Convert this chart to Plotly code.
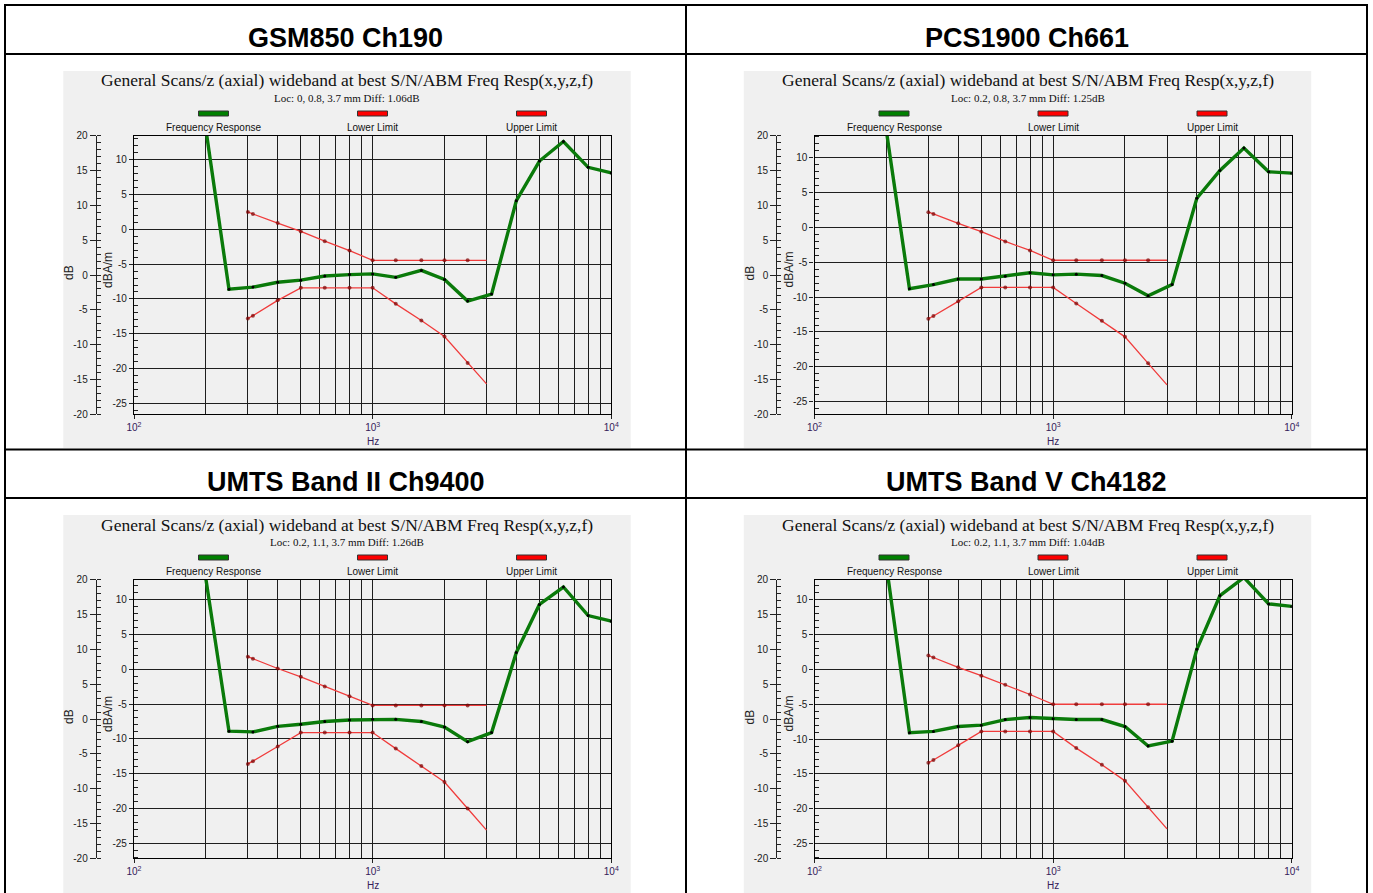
import plotly.graph_objects as go

W, H = 1373, 893       # page size

# ---------------- data ----------------
headers = ["GSM850 Ch190", "PCS1900 Ch661", "UMTS Band II Ch9400", "UMTS Band V Ch4182"]
chart_title = "General Scans/z (axial) wideband at best S/N/ABM Freq Resp(x,y,z,f)"
loc_texts = [
    "Loc: 0, 0.8, 3.7 mm Diff: 1.06dB",
    "Loc: 0.2, 0.8, 3.7 mm Diff: 1.25dB",
    "Loc: 0.2, 1.1, 3.7 mm Diff: 1.26dB",
    "Loc: 0.2, 1.1, 3.7 mm Diff: 1.04dB",
]
legend_names = ["Frequency Response", "Lower Limit", "Upper Limit"]

freqs_resp = [200, 250, 315, 400, 500, 630, 800, 1000, 1250, 1600, 2000, 2500, 3150, 4000, 5000, 6300, 8000, 10000]
freqs_limit = [300, 315, 400, 500, 630, 800, 1000, 1250, 1600, 2000, 2500, 3000]

gsm850_resp = [14.4, -8.6, -8.3, -7.6, -7.3, -6.7, -6.5, -6.4, -6.9, -5.9, -7.2, -10.3, -9.3, 4.1, 9.8, 12.6, 8.9, 8.1]
gsm850_lower = [-12.8, -12.4, -10.2, -8.4, -8.4, -8.4, -8.4, -10.7, -13.1, -15.4, -19.2, -22.2]
gsm850_upper = [2.5, 2.2, 0.9, -0.3, -1.7, -3.05, -4.45, -4.45, -4.45, -4.45, -4.45, -4.45]

pcs1900_resp = [13.9, -8.8, -8.2, -7.4, -7.4, -7.0, -6.5, -6.8, -6.7, -6.9, -8.0, -9.8, -8.2, 4.2, 8.2, 11.4, 8.0, 7.8]
pcs1900_lower = [-13.1, -12.7, -10.6, -8.6, -8.6, -8.6, -8.6, -10.9, -13.4, -15.7, -19.5, -22.6]
pcs1900_upper = [2.2, 1.95, 0.6, -0.6, -2.0, -3.3, -4.7, -4.7, -4.7, -4.7, -4.7, -4.7]

umts2_resp = [13.0, -8.9, -9.0, -8.2, -7.9, -7.5, -7.3, -7.2, -7.2, -7.5, -8.3, -10.4, -9.1, 2.4, 9.3, 11.8, 7.7, 6.9]
umts2_lower = [-13.6, -13.2, -11.1, -9.1, -9.1, -9.1, -9.1, -11.4, -13.9, -16.2, -20.0, -23.1]
umts2_upper = [1.8, 1.5, 0.1, -1.1, -2.5, -3.9, -5.2, -5.2, -5.2, -5.2, -5.2, -5.2]

umts5_resp = [15.0, -9.1, -8.9, -8.2, -8.0, -7.2, -6.9, -7.1, -7.2, -7.2, -8.2, -11.0, -10.3, 2.9, 10.6, 13.2, 9.4, 9.05]
umts5_lower = [-13.4, -13.0, -10.9, -8.9, -8.9, -8.9, -8.9, -11.3, -13.7, -16.0, -19.8, -22.9]
umts5_upper = [2.0, 1.7, 0.3, -0.9, -2.2, -3.6, -5.0, -5.0, -5.0, -5.0, -5.0, -5.0]

resp_series = [gsm850_resp, pcs1900_resp, umts2_resp, umts5_resp]
lower_series = [gsm850_lower, pcs1900_lower, umts2_lower, umts5_lower]
upper_series = [gsm850_upper, pcs1900_upper, umts2_upper, umts5_upper]

inner_ticks = [-25, -20, -15, -10, -5, 0, 5, 10]
outer_ticks = [-20, -15, -10, -5, 0, 5, 10, 15, 20]
x_major = [100, 1000, 10000]
x_major_text = ["10<sup>2</sup>", "10<sup>3</sup>", "10<sup>4</sup>"]
x_minor = [200, 300, 400, 500, 600, 700, 800, 900, 2000, 3000, 4000, 5000, 6000, 7000, 8000, 9000]

inner_ranges = [[-26.56, 13.44], [-26.82, 13.18], [-27.15, 12.85], [-27.12, 12.88]]

def X(px):
    return px / W

def Y(py):
    return 1 - py / H

GREEN = "#0a7a0a"
RED = "#f03c3c"
GRID = "#1e1e1e"
TICKFONT = dict(family="Liberation Sans, Arial, sans-serif", size=10, color="#1a1a1a")

fig = go.Figure()
shapes = []
annotations = []
layout = {}

for i in range(4):
    col, row = i % 2, i // 2
    dx = 680.5 * col
    dy = 444.0 * row
    n = i + 1
    xa = "x" if n == 1 else f"x{n}"
    ya = "y" if n == 1 else f"y{n}"
    yo = f"y{n + 4}"

    px0, px1 = 134 + dx, 611.3 + dx
    py0, py1 = 135.7 + dy, 414.3 + dy

    layout[f"xaxis{n}"] = dict(
        type="log", range=[2, 4], domain=[X(px0), X(px1)], anchor=ya,
        tickmode="array", tickvals=x_major, ticktext=x_major_text,
        ticks="outside", ticklen=4, tickcolor="#222", tickwidth=1,
        showgrid=True, gridcolor=GRID, gridwidth=1.2,
        minor=dict(tickmode="array", tickvals=x_minor, showgrid=True,
                   gridcolor=GRID, gridwidth=1.2, ticks=""),
        showline=True, linecolor="#000", linewidth=1.2, mirror=True,
        zeroline=False, automargin=False,
        tickfont=dict(family="Liberation Sans, Arial", size=10, color="#35205a"),
        fixedrange=True,
    )
    layout[f"yaxis{n}"] = dict(
        range=inner_ranges[i], domain=[Y(py1), Y(py0)], anchor=xa,
        tickmode="array", tickvals=inner_ticks, ticktext=[str(v) for v in inner_ticks],
        ticks="outside", ticklen=4, tickcolor="#222", tickwidth=1,
        minor=dict(ticks="inside", ticklen=4, tickcolor="#222", tickmode="linear",
                   tick0=0, dtick=1, showgrid=False),
        showgrid=True, gridcolor=GRID, gridwidth=1.2,
        showline=True, linecolor="#000", linewidth=1.2, mirror=True,
        zeroline=False, automargin=False, tickfont=TICKFONT, fixedrange=True,
    )
    layout[f"yaxis{n + 4}"] = dict(
        range=[-20, 20], overlaying=ya, anchor="free", position=X(95.7 + dx), side="left",
        tickmode="array", tickvals=outer_ticks, ticktext=[str(v) for v in outer_ticks],
        ticks="outside", ticklen=6, tickcolor="#222", tickwidth=1,
        minor=dict(ticks="inside", ticklen=4, tickcolor="#222", tickmode="linear",
                   tick0=0, dtick=1, showgrid=False),
        showgrid=False, showline=True, linecolor="#222", linewidth=1,
        zeroline=False, automargin=False, tickfont=TICKFONT, fixedrange=True,
    )

    # invisible trace so the outer dB axis is drawn
    fig.add_trace(go.Scatter(x=[None], y=[None], xaxis=xa, yaxis=yo,
                             showlegend=False, hoverinfo="skip"))

    msize = [4] * (len(freqs_limit) - 1) + [0]
    for series in (lower_series[i], upper_series[i]):
        fig.add_trace(go.Scatter(
            x=freqs_limit, y=series, xaxis=xa, yaxis=ya, mode="lines+markers",
            line=dict(color=RED, width=1.3),
            marker=dict(size=msize, color="#7a0000", line=dict(width=0)),
            showlegend=False, hoverinfo="skip", cliponaxis=True))
    fig.add_trace(go.Scatter(
        x=freqs_resp, y=resp_series[i], xaxis=xa, yaxis=ya, mode="lines+markers",
        line=dict(color=GREEN, width=3.4),
        marker=dict(size=3, color="#000"),
        showlegend=False, hoverinfo="skip", cliponaxis=True))

    gy1 = 448 + dy if row == 0 else H + 5
    shapes.append(dict(type="rect", xref="paper", yref="paper",
                       x0=X(63.3 + dx), x1=X(630.7 + dx), y0=Y(gy1), y1=Y(71 + dy),
                       fillcolor="#f0f0f0", line=dict(width=0), layer="below"))

    cx = 347 + dx
    annotations.append(dict(x=X(cx), y=Y(80.5 + dy), xref="paper", yref="paper",
                            text=chart_title, showarrow=False, xanchor="center", yanchor="middle",
                            font=dict(family="Liberation Serif, Times New Roman, serif", size=17.5, color="#111")))
    annotations.append(dict(x=X(cx), y=Y(98 + dy), xref="paper", yref="paper",
                            text=loc_texts[i], showarrow=False, xanchor="center", yanchor="middle",
                            font=dict(family="Liberation Serif, Times New Roman, serif", size=11, color="#111")))

    for k, (name, col_fill) in enumerate(zip(legend_names, ["#008000", "#ff0000", "#ff0000"])):
        lx = 213.5 + dx + 159 * k
        shapes.append(dict(type="rect", xref="paper", yref="paper",
                           x0=X(lx - 15), x1=X(lx + 15), y0=Y(116 + dy), y1=Y(111 + dy),
                           fillcolor=col_fill, line=dict(color="#333", width=1), layer="above"))
        annotations.append(dict(x=X(lx), y=Y(127.5 + dy), xref="paper", yref="paper",
                                text=name, showarrow=False, xanchor="center", yanchor="middle",
                                font=dict(family="Liberation Sans, Arial", size=10, color="#111")))

    annotations.append(dict(x=X(69 + dx), y=Y(273 + dy), xref="paper", yref="paper", text="dB",
                            textangle=-90, showarrow=False, xanchor="center", yanchor="middle",
                            font=dict(family="Liberation Sans, Arial", size=12, color="#222")))
    annotations.append(dict(x=X(108 + dx), y=Y(270 + dy), xref="paper", yref="paper", text="dBA/m",
                            textangle=-90, showarrow=False, xanchor="center", yanchor="middle",
                            font=dict(family="Liberation Sans, Arial", size=12, color="#222")))
    annotations.append(dict(x=X(372.5 + dx), y=Y(441 + dy), xref="paper", yref="paper", text="Hz",
                            showarrow=False, xanchor="center", yanchor="middle",
                            font=dict(family="Liberation Sans, Arial", size=10, color="#35205a")))

    hx = 345.5 if col == 0 else 1026.5
    hy = 38 if row == 0 else 482
    annotations.append(dict(x=X(hx), y=Y(hy), xref="paper", yref="paper", text=f"<b>{headers[i]}</b>",
                            showarrow=False, xanchor="center", yanchor="middle",
                            font=dict(family="Liberation Sans, Arial", size=27, color="#000")))

# table grid lines
for yy in (5, 54, 449.5, 498):
    shapes.append(dict(type="line", xref="paper", yref="paper", x0=X(4), x1=X(1368),
                       y0=Y(yy), y1=Y(yy), line=dict(color="#000", width=2), layer="above"))
for xx in (5, 686, 1367):
    shapes.append(dict(type="line", xref="paper", yref="paper", x0=X(xx), x1=X(xx),
                       y0=Y(4), y1=Y(H + 5), line=dict(color="#000", width=2), layer="above"))

fig.update_layout(
    width=W, height=H, autosize=False,
    margin=dict(l=0, r=0, t=0, b=0, pad=0, autoexpand=False),
    paper_bgcolor="#ffffff", plot_bgcolor="#ffffff",
    showlegend=False, shapes=shapes, annotations=annotations,
    **layout,
)

fig.write_html("out.html", config={"displayModeBar": False},
               post_script="document.body.style.margin='0px';document.body.style.overflow='hidden';")
